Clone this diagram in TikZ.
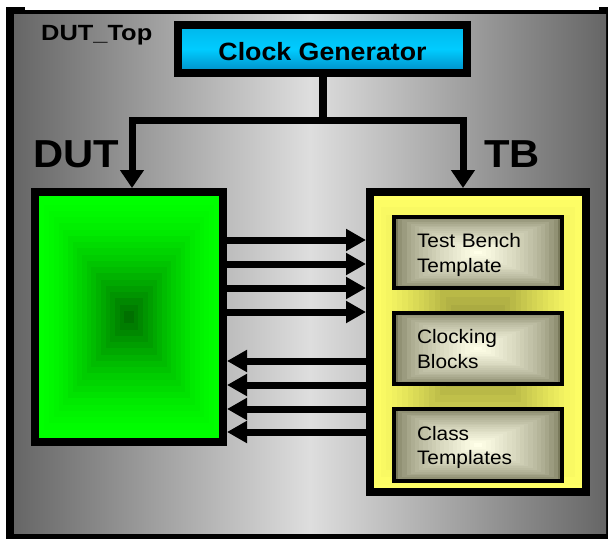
\documentclass[tikz,border=0pt]{standalone}
\usepackage{fontspec}
\setmainfont{Liberation Sans}[FakeStretch=1.07]
\usetikzlibrary{arrows.meta,calc}
\definecolor{bgdark}{RGB}{102,102,102}
\definecolor{bglight}{RGB}{222,222,222}
\definecolor{cyantop}{RGB}{0,182,234}
\definecolor{cyanmid}{RGB}{0,204,255}
\definecolor{cyanbot}{RGB}{0,140,196}
\definecolor{greenout}{RGB}{0,255,0}
\definecolor{greenin}{RGB}{0,112,0}
\definecolor{yelout}{RGB}{255,255,102}
\definecolor{yelin}{RGB}{140,140,52}
\definecolor{oliveout}{RGB}{122,122,92}
\definecolor{olivein}{RGB}{255,255,232}
\tikzset{
  boxgrad/.style n args={3}{path picture={
    \foreach \k in {0,...,19}{
      \pgfmathsetmacro\myfr{\k/20}
      \pgfmathtruncatemacro\mypc{100*((\k/19)^#3)}
      \fill[#2!\mypc!#1] ($(path picture bounding box.south west)!\myfr!(path picture bounding box.center)$) rectangle ($(path picture bounding box.north east)!\myfr!(path picture bounding box.center)$);
    }}},
  bigbox/.style={draw=black, line width=8pt, inner sep=0pt},
  subbox/.style={draw=black, line width=4pt, minimum width=168pt, minimum height=71.5pt,
    boxgrad={oliveout}{olivein}{0.6}, text width=122pt, align=left,
    font=\fontsize{19.5}{24.5}\selectfont, text height=19pt, text depth=29pt},
  sig/.style={line width=7pt, -{Triangle[length=20pt,width=21pt]}},
  clk/.style={line width=7pt, -{Triangle[length=18pt,width=23pt]}},
  lab/.style={anchor=base west, inner sep=0pt}
}
\begin{document}
\begin{tikzpicture}[x=1pt,y=-1pt]
\useasboundingbox (0,0) rectangle (608,539);
% frame
\fill[black] (6,7) rectangle (608,539);
\fill[white] (25,6) rectangle (599,10);
\shade[left color=bgdark, right color=bgdark, middle color=bglight] (14,14) rectangle (606,533);
% labels
\node[lab, font=\fontsize{22}{22}\selectfont\bfseries] (duttop) at (41,40) {\scalebox{1.08}[1]{DUT\_Top}};
\node[lab, font=\fontsize{39}{39}\selectfont\bfseries] (dutlab) at (33,167) {DUT};
\node[lab, font=\fontsize{39}{39}\selectfont\bfseries] (tblab) at (484,167) {TB};
% clock generator
\node[bigbox, minimum width=289pt, minimum height=48pt,
      top color=cyantop, bottom color=cyanbot, middle color=cyanmid,
      font=\fontsize{25}{25}\selectfont\bfseries, text height=22pt, text depth=0pt]
      (clock) at (322.5,49) {Clock Generator};
% DUT and TB
\node[bigbox, minimum width=188pt, minimum height=250pt, boxgrad={greenout}{greenin}{1.6}] (dut) at (129,317) {};
\node[bigbox, minimum width=216pt, minimum height=300pt, boxgrad={yelout}{yelin}{1.3}] (tb) at (478,342) {};
\node[subbox] (tbt) at (478,252.5) {Test Bench\\Template};
\node[subbox] (cb) at (478,348.5) {Clocking\\Blocks};
\node[subbox] (ct) at (478,445) {Class\\Templates};
% clock distribution
\coordinate (jrow) at (0,120.5);
\coordinate (jl) at (132,120.5);
\coordinate (jr) at (463,120.5);
\draw[line width=8pt] (clock.south) -- (clock.south |- jrow);
\draw[clk] (clock.south |- jrow) -- (jl) -- (jl |- dut.north);
\draw[clk] (clock.south |- jrow) -- (jr) -- (jr |- tb.north);
% signals
\foreach \yy [count=\i] in {240,264,288,312}{
  \coordinate (r\i) at (0,\yy);
  \draw[sig] (dut.east |- r\i) -- (tb.west |- r\i);
}
\foreach \yy [count=\i] in {361,385,409,432}{
  \coordinate (l\i) at (0,\yy);
  \draw[sig] (tb.west |- l\i) -- (dut.east |- l\i);
}
\end{tikzpicture}
\end{document}
